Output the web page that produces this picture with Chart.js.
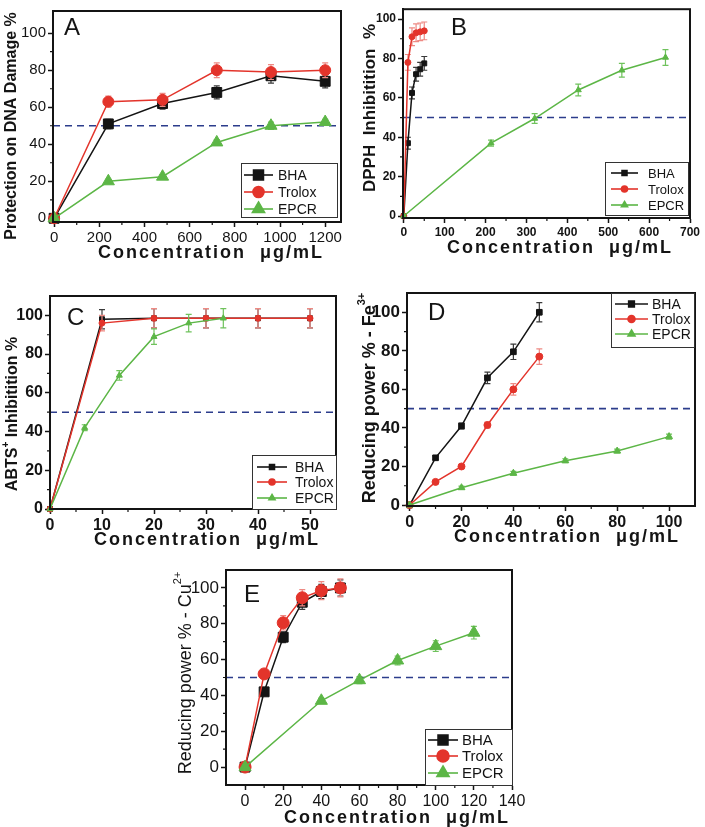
<!DOCTYPE html>
<html>
<head>
<meta charset="utf-8">
<script src="https://cdn.jsdelivr.net/npm/chart.js@4.4.1/dist/chart.umd.min.js"></script>
<style>
  html, body { margin: 0; padding: 0; background: #fff; }
  body { width: 705px; height: 827px; position: relative; overflow: hidden; }
  canvas { position: absolute; }
</style>
</head>
<body>
<canvas id="chartA"></canvas>
<canvas id="chartB"></canvas>
<canvas id="chartC"></canvas>
<canvas id="chartD"></canvas>
<canvas id="chartE"></canvas>
<script>
// ---- data ----
// A: protection on DNA damage
const concA = [0, 240, 480, 720, 960, 1200];
const bhaA = [0, 51, 62, 68, 77, 74];
const bhaErrA = [0, 2.5, 3, 3.5, 4, 3.5];
const troloxA = [0, 63, 64, 80, 79, 80];
const troloxErrA = [0, 3, 3.5, 4, 4, 4];
const epcrA = [0, 20, 22.5, 41, 50, 52];
const epcrErrA = [0, 1, 1, 1.5, 2, 1.5];
const xTicksA = [0, 200, 400, 600, 800, 1000, 1200];

// B: DPPH
const concB = [0, 10, 20, 30, 40, 50];
const bhaB = [0, 37, 62.5, 72, 74.5, 77.5];
const bhaErrB = [0, 3, 3, 3.5, 3.5, 3.5];
const troloxB = [0, 78, 91, 93, 93.5, 94];
const troloxErrB = [0, 4, 4.5, 4.5, 4.5, 4.5];
const concEpcrB = [0, 213.3, 320, 426.7, 533.3, 640];
const epcrB = [0, 37, 49.5, 64, 74, 80.5];
const epcrErrB = [0, 1.5, 2.5, 3, 3.5, 4];
const xTicksB = [0, 100, 200, 300, 400, 500, 600, 700];

// C: ABTS+
const concC = [0, 10, 20, 30, 40, 50];
const bhaC = [0, 98, 98.5, 98.5, 98.5, 98.5];
const bhaErrC = [0, 5, 5, 5, 5, 5];
const troloxC = [0, 96, 98.5, 98.5, 98.5, 98.5];
const troloxErrC = [0, 4, 5, 5, 5, 5];
const concEpcrC = [0, 6.67, 13.33, 20, 26.67, 33.33];
const epcrC = [0, 42, 69, 89, 96, 98.5];
const epcrErrC = [0, 1.5, 2.5, 4, 4.5, 5];
const xTicksC = [0, 10, 20, 30, 40, 50];

// D: reducing power Fe3+
const concD = [0, 10, 20, 30, 40, 50];
const bhaD = [0, 24.5, 41, 66, 79.5, 100];
const bhaErrD = [0, 1, 1.5, 3, 4, 5];
const troloxD = [0, 12, 20, 41.5, 60, 77];
const troloxErrD = [0, 0.5, 1, 1.5, 3, 4];
const concEpcrD = [0, 20, 40, 60, 80, 100];
const epcrD = [0, 9, 16.5, 23, 28, 35.5];
const epcrErrD = [0, 0.8, 1, 1, 1, 1.3];
const xTicksD = [0, 20, 40, 60, 80, 100];

// E: reducing power Cu2+
const concE = [0, 10, 20, 30, 40, 50];
const bhaE = [0, 42, 72.5, 92, 98, 100];
const bhaErrE = [0, 2, 3, 4, 4, 4.5];
const troloxE = [0, 52, 80.5, 94.5, 98.5, 100];
const troloxErrE = [0, 2, 4, 4.5, 5, 5];
const concEpcrE = [0, 40, 60, 80, 100, 120];
const epcrE = [0, 37, 48.5, 59.5, 67.5, 75];
const epcrErrE = [0, 1.5, 2, 2.5, 3, 3.5];
const xTicksE = [0, 20, 40, 60, 80, 100, 120, 140];

const yTicks = [0, 20, 40, 60, 80, 100];
const seriesNames = ['BHA', 'Trolox', 'EPCR'];

// ---- styles ----
const BLACK = '#141414';
const RED = '#e3342b';
const GREEN = '#5cb646';
const DASH = '#2c3d8c';
const ERR_COLORS = ['#3a3a3a', '#ee8a84', '#6fc25c'];
const FAMILY = "'Liberation Sans', Arial, sans-serif";

function pts(xs, ys) {
    return xs.map((x, i) => ({ x: x, y: ys[i] }));
}

// midpoints between labelled ticks, for the short minor ticks
function minors(arr) {
    const out = [];
    for (let i = 0; i < arr.length - 1; i++) out.push((arr[i] + arr[i + 1]) / 2);
    return out;
}

// error bars drawn under each dataset
const errorBars = {
    id: 'errorBars',
    beforeDatasetDraw(chart, args) {
        const ds = chart.data.datasets[args.index];
        if (!ds.errors) return;
        const ctx = chart.ctx;
        const ys = chart.scales.y;
        const cap = ds.errCap || 3;
        ctx.save();
        ctx.strokeStyle = ds.errColor;
        ctx.lineWidth = 1.2;
        args.meta.data.forEach((p, i) => {
            const e = ds.errors[i];
            if (!e) return;
            const v = ds.data[i].y;
            const top = ys.getPixelForValue(v + e);
            const bot = ys.getPixelForValue(v - e);
            ctx.beginPath();
            ctx.moveTo(p.x, top); ctx.lineTo(p.x, bot);
            ctx.moveTo(p.x - cap, top); ctx.lineTo(p.x + cap, top);
            ctx.moveTo(p.x - cap, bot); ctx.lineTo(p.x + cap, bot);
            ctx.stroke();
        });
        ctx.restore();
    }
};

// rich text centred on the origin (for superscripts)
function drawRich(ctx, parts, size, weight) {
    let total = 0;
    const widths = parts.map(p => {
        ctx.font = `${weight} ${p.sup ? Math.round(size * 0.62) : size}px ${FAMILY}`;
        const w = ctx.measureText(p.t).width;
        total += w;
        return w;
    });
    let x = -total / 2;
    parts.forEach((p, i) => {
        ctx.font = `${weight} ${p.sup ? Math.round(size * 0.62) : size}px ${FAMILY}`;
        ctx.fillText(p.t, x, p.sup ? -size * 0.42 : 0);
        x += widths[i];
    });
}

// frame, minor ticks, panel letter, axis titles, legend box
const deco = {
    id: 'deco',
    afterDatasetsDraw(chart, args, o) {
        const a = chart.chartArea;
        const ctx = chart.ctx;
        const xs = chart.scales.x, ys = chart.scales.y;
        ctx.save();
        ctx.strokeStyle = BLACK;
        ctx.lineWidth = 2;
        ctx.strokeRect(a.left, a.top, a.right - a.left, a.bottom - a.top);
        ctx.lineWidth = 1.2;
        ctx.beginPath();
        minors(o.xTicks).forEach(v => {
            const px = xs.getPixelForValue(v);
            ctx.moveTo(px, a.bottom); ctx.lineTo(px, a.bottom + 3);
        });
        minors(yTicks).forEach(v => {
            const py = ys.getPixelForValue(v);
            ctx.moveTo(a.left, py); ctx.lineTo(a.left - 3, py);
        });
        ctx.stroke();
        ctx.restore();
    },
    afterDraw(chart, args, o) {
        const ctx = chart.ctx;
        const ox = o.origin[0], oy = o.origin[1];
        ctx.save();
        ctx.fillStyle = BLACK;
        ctx.textBaseline = 'alphabetic';
        ctx.textAlign = 'left';
        // panel letter
        ctx.font = `24px ${FAMILY}`;
        ctx.fillText(o.letter[0], o.letter[1] - ox, o.letter[2] - oy);
        // x title
        ctx.textBaseline = 'middle';
        ctx.save();
        ctx.letterSpacing = '2px';
        ctx.translate(o.xTitle[0] - ox, o.xTitle[1] - oy);
        drawRich(ctx, [{ t: 'Concentration  \u03bcg/mL' }], 18, 'bold');
        ctx.restore();
        // y title
        ctx.save();
        ctx.translate(o.yTitle.x - ox, o.yTitle.y - oy);
        ctx.rotate(-Math.PI / 2);
        drawRich(ctx, o.yTitle.parts, o.yTitle.size, o.yTitle.weight);
        ctx.restore();
        // legend
        const L = o.legend;
        ctx.fillStyle = '#fff';
        ctx.fillRect(L.box[0] - ox, L.box[1] - oy, L.box[2] - L.box[0], L.box[3] - L.box[1]);
        ctx.strokeStyle = '#333';
        ctx.lineWidth = 1;
        ctx.strokeRect(L.box[0] - ox + 0.5, L.box[1] - oy + 0.5, L.box[2] - L.box[0], L.box[3] - L.box[1]);
        chart.data.datasets.slice(0, 3).forEach((ds, i) => {
            const y = L.rows[i] - oy;
            ctx.strokeStyle = ds.borderColor;
            ctx.lineWidth = 1.6;
            ctx.beginPath();
            ctx.moveTo(L.line[0] - ox, y);
            ctx.lineTo(L.line[1] - ox, y);
            ctx.stroke();
            ctx.fillStyle = ds.borderColor;
            Chart.helpers.drawPoint(ctx, {
                pointStyle: ds.pointStyle, radius: ds.pointRadius, rotation: 0, borderWidth: 1
            }, (L.line[0] + L.line[1]) / 2 - ox, y);
            ctx.fillStyle = BLACK;
            ctx.font = `${L.font}px ${FAMILY}`;
            ctx.textAlign = 'left';
            ctx.fillText(ds.label, L.textX - ox, y + 1);
        });
        ctx.restore();
    }
};

function makeChart(id, lay, series, xTicks) {
    const canvas = document.getElementById(id);
    canvas.width = lay.box[2];
    canvas.height = lay.box[3];
    canvas.style.left = lay.box[0] + 'px';
    canvas.style.top = lay.box[1] + 'px';

    const colors = [BLACK, RED, GREEN];
    const styles = ['rect', 'circle', 'triangle'];
    const datasets = series.map((s, i) => ({
        label: seriesNames[i],
        data: pts(s.x, s.y),
        errors: s.err,
        errColor: ERR_COLORS[i],
        errCap: lay.cap,
        borderColor: colors[i],
        backgroundColor: colors[i],
        borderWidth: 1.5,
        pointStyle: styles[i],
        pointRadius: lay.radius[i],
        pointBorderWidth: 1,
        order: 2 - i,
        clip: false
    }));
    // 50 % reference line
    datasets.push({
        label: '50%',
        data: [{ x: lay.x[0], y: 50 }, { x: lay.x[1], y: 50 }],
        borderColor: DASH,
        borderWidth: 1.6,
        borderDash: [7, 5],
        pointRadius: 0,
        order: 9
    });

    const tickFont = (f) => ({ family: FAMILY, size: f[0], weight: f[1] });
    const gridOpts = { drawOnChartArea: false, drawTicks: true, tickLength: 5, tickWidth: 1.5, tickColor: BLACK };

    new Chart(canvas, {
        type: 'line',
        data: { datasets: datasets },
        options: {
            responsive: false,
            animation: false,
            events: [],
            layout: {
                padding: {
                    left: 0, bottom: 0,
                    top: lay.area[1] - lay.box[1],
                    right: lay.box[0] + lay.box[2] - lay.area[2]
                }
            },
            plugins: {
                legend: { display: false },
                tooltip: { enabled: false },
                deco: {
                    origin: [lay.box[0], lay.box[1]],
                    xTicks: xTicks,
                    letter: lay.letter,
                    xTitle: lay.xTitle,
                    yTitle: lay.yTitle,
                    legend: lay.legend
                }
            },
            scales: {
                x: {
                    type: 'linear',
                    min: lay.x[0], max: lay.x[1],
                    grid: gridOpts,
                    border: { display: true, color: BLACK, width: 2 },
                    afterBuildTicks: (sc) => { sc.ticks = xTicks.map(v => ({ value: v })); },
                    afterFit: (sc) => { sc.height = lay.box[1] + lay.box[3] - lay.area[3]; },
                    ticks: {
                        autoSkip: false, maxRotation: 0, padding: 2, color: BLACK,
                        font: tickFont(lay.xFont),
                        callback: (v) => String(v)
                    }
                },
                y: {
                    min: lay.y[0], max: lay.y[1],
                    grid: gridOpts,
                    border: { display: true, color: BLACK, width: 2 },
                    afterBuildTicks: (sc) => { sc.ticks = yTicks.map(v => ({ value: v })); },
                    afterFit: (sc) => { sc.width = lay.area[0] - lay.box[0]; },
                    ticks: {
                        autoSkip: false, padding: 2, color: BLACK,
                        font: tickFont(lay.yFont),
                        callback: (v) => String(v)
                    }
                }
            }
        },
        plugins: [errorBars, deco]
    });
}

// ---- panels ----
makeChart('chartA', {
    box: [0, 0, 352, 268], area: [53, 3, 341, 222],
    x: [-5, 1270], y: [-2, 112],
    xFont: [15, 'normal'], yFont: [15, 'normal'],
    radius: [7, 5.5, 7], cap: 3,
    letter: ['A', 64, 35],
    xTitle: [211, 253],
    yTitle: { x: 12, y: 126, size: 16, weight: 'bold', parts: [{ t: 'Protection on DNA Damage %' }] },
    legend: { box: [241, 163, 337, 217], rows: [175, 192, 209], line: [244, 273], textX: 278, font: 14 }
}, [
    { x: concA, y: bhaA, err: bhaErrA },
    { x: concA, y: troloxA, err: troloxErrA },
    { x: concA, y: epcrA, err: epcrErrA }
], xTicksA);

makeChart('chartB', {
    box: [352, 0, 353, 268], area: [403, 4, 690, 218],
    x: [-2, 700], y: [-1, 105],
    xFont: [12, 'bold'], yFont: [12, 'bold'],
    radius: [3.5, 3, 3.5], cap: 3,
    letter: ['B', 451, 35],
    xTitle: [560, 248],
    yTitle: { x: 370, y: 108, size: 17, weight: 'bold', parts: [{ t: 'DPPH  Inhibitition  %' }] },
    legend: { box: [605, 162, 688, 215], rows: [173, 189, 205], line: [611, 638], textX: 648, font: 13 }
}, [
    { x: concB, y: bhaB, err: bhaErrB },
    { x: concB, y: troloxB, err: troloxErrB },
    { x: concEpcrB, y: epcrB, err: epcrErrB }
], xTicksB);

makeChart('chartC', {
    box: [0, 268, 352, 287], area: [50, 296, 336, 509],
    x: [0, 55], y: [0, 110],
    xFont: [16, 'bold'], yFont: [16, 'bold'],
    radius: [3.5, 3, 3.5], cap: 3,
    letter: ['C', 67, 325],
    xTitle: [207, 540],
    yTitle: { x: 13, y: 414, size: 16, weight: 'bold', parts: [{ t: 'ABTS' }, { t: '+', sup: true }, { t: ' Inhibitition %' }] },
    legend: { box: [252, 455, 336, 509], rows: [467, 482, 498], line: [257, 287], textX: 295, font: 14 }
}, [
    { x: concC, y: bhaC, err: bhaErrC },
    { x: concC, y: troloxC, err: troloxErrC },
    { x: concEpcrC, y: epcrC, err: epcrErrC }
], xTicksC);

makeChart('chartD', {
    box: [352, 268, 353, 287], area: [407, 293, 695, 506],
    x: [-1, 110], y: [-0.5, 110],
    xFont: [16, 'bold'], yFont: [17, 'bold'],
    radius: [4, 3.5, 4], cap: 3,
    letter: ['D', 428, 320],
    xTitle: [567, 537],
    yTitle: { x: 370, y: 398, size: 18, weight: 'bold', parts: [{ t: 'Reducing power % - Fe' }, { t: '3+', sup: true }] },
    legend: { box: [611, 293, 694, 347], rows: [304, 319, 334], line: [615, 648], textX: 652, font: 14 }
}, [
    { x: concD, y: bhaD, err: bhaErrD },
    { x: concD, y: troloxD, err: troloxErrD },
    { x: concEpcrD, y: epcrD, err: epcrErrD }
], xTicksD);

makeChart('chartE', {
    box: [165, 555, 375, 272], area: [226, 570, 512, 785],
    x: [-10, 140], y: [-10, 110],
    xFont: [16, 'normal'], yFont: [17, 'normal'],
    radius: [7, 6, 7], cap: 3,
    letter: ['E', 244, 602],
    xTitle: [397, 818],
    yTitle: { x: 186, y: 673, size: 18, weight: 'normal', parts: [{ t: 'Reducing power % - Cu' }, { t: '2+', sup: true }] },
    legend: { box: [425, 729, 512, 785], rows: [740, 756, 773], line: [428, 458], textX: 462, font: 15 }
}, [
    { x: concE, y: bhaE, err: bhaErrE },
    { x: concE, y: troloxE, err: troloxErrE },
    { x: concEpcrE, y: epcrE, err: epcrErrE }
], xTicksE);
</script>
</body>
</html>
